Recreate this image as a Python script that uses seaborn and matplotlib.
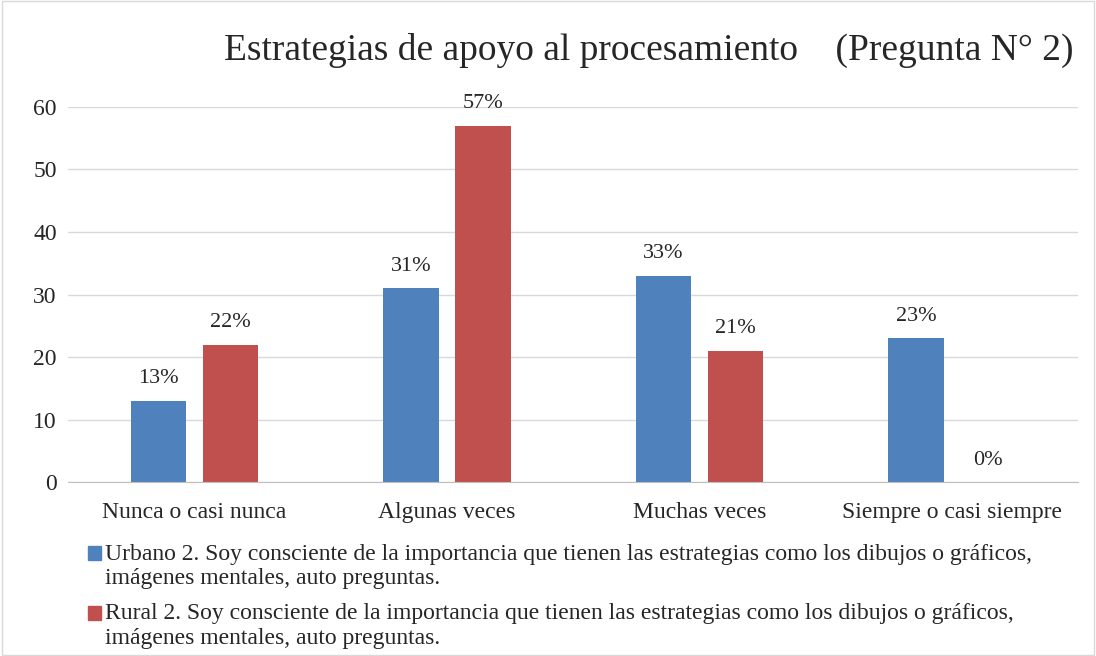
import matplotlib.pyplot as plt
import seaborn as sns
import pandas as pd
from matplotlib.legend_handler import HandlerPatch

categories = ['Nunca o casi nunca', 'Algunas veces', 'Muchas veces', 'Siempre o casi siempre']
urbano = [13, 31, 33, 23]
rural = [22, 57, 21, 0]
series_names = [
    'Urbano 2. Soy consciente de la importancia que tienen las estrategias como los dibujos o gráficos,\nimágenes mentales, auto preguntas.',
    'Rural 2. Soy consciente de la importancia que tienen las estrategias como los dibujos o gráficos,\nimágenes mentales, auto preguntas.',
]
colors = ['#4F81BD', '#C0504D']

df = pd.DataFrame({
    'cat': categories * 2,
    'val': urbano + rural,
    'serie': [series_names[0]] * 4 + [series_names[1]] * 4,
})

sns.set_style('white')
plt.rcParams['font.family'] = ['Liberation Serif', 'DejaVu Serif']

fig = plt.figure(figsize=[10.96, 6.56], dpi=100)
ax = fig.add_axes([0.062, 0.265, 0.922, 0.572])

sns.barplot(data=df, x='cat', y='val', hue='serie', palette=colors, saturation=1,
            width=0.57, gap=0.23, linewidth=0, ax=ax, legend=False)

for cont in ax.containers:
    for p in cont:
        h = p.get_height()
        ax.annotate('%d%%' % int(h), (p.get_x() + p.get_width() / 2., h),
                    xytext=(0, 9), textcoords='offset points',
                    ha='center', va='bottom', fontsize=16)

ax.set_ylim(0, 60)
ax.set_xlim(-0.5, 3.5)
ax.set_yticks(range(0, 61, 10))
ax.yaxis.grid(True, color='#D9D9D9', linewidth=1)
ax.set_axisbelow(True)
for s in ['top', 'right', 'left']:
    ax.spines[s].set_visible(False)
ax.spines['bottom'].set_color('#BFBFBF')
ax.tick_params(axis='y', length=0, labelsize=17, pad=8)
ax.tick_params(axis='x', length=0, labelsize=17, pad=14)
ax.set_xlabel('')
ax.set_ylabel('')

fig.text(0.592, 0.923, 'Estrategias de apoyo al procesamiento    (Pregunta N° 2)',
         ha='center', va='center', fontsize=27)


# square marker next to the first line of each two-line label
def top_square(legend, orig_handle, xdescent, ydescent, width, height, fontsize):
    return plt.Rectangle((-xdescent, -ydescent + 0.55 * fontsize), width, height)


handles = [plt.Rectangle((0, 0), 1, 1, color=c) for c in colors]
fig.legend(handles, series_names, loc='upper left', bbox_to_anchor=(0.072, 0.185),
           frameon=False, fontsize=17, handlelength=0.55, handleheight=0.55,
           handletextpad=0.15, labelspacing=0.6, borderaxespad=0,
           handler_map={plt.Rectangle: HandlerPatch(patch_func=top_square)})

fig.patches.append(plt.Rectangle((0.002, 0.002), 0.996, 0.996, transform=fig.transFigure,
                                 fill=False, edgecolor='#D9D9D9', linewidth=1))

plt.savefig('out.png', dpi=100)
